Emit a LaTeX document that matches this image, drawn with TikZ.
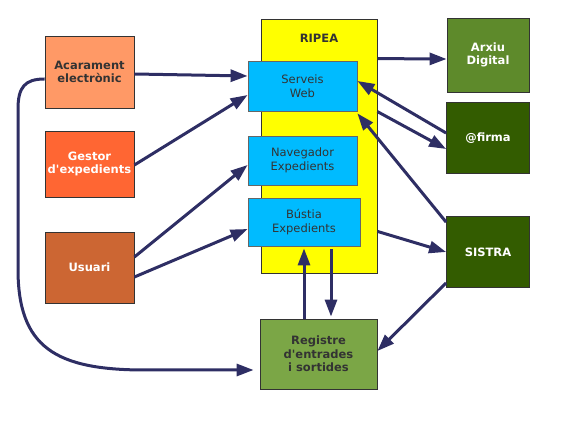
\documentclass[tikz,border=0pt]{standalone}
\usepackage{fontspec}
\setsansfont{DejaVu Sans}
\usetikzlibrary{arrows.meta}

\definecolor{acarcol}{HTML}{FF9966}
\definecolor{gestcol}{HTML}{FF6633}
\definecolor{usuacol}{HTML}{CC6633}
\definecolor{ripcol}{HTML}{FFFF00}
\definecolor{modcol}{HTML}{00BBFF}
\definecolor{arxcol}{HTML}{5E8A2B}
\definecolor{darkgreen}{HTML}{335C00}
\definecolor{regcol}{HTML}{7BA646}
\definecolor{linkcol}{HTML}{2E2E64}
\definecolor{txtcol}{HTML}{333333}

\begin{document}
\begin{tikzpicture}[x = 1pt, y = 1pt, align = center,
	ext/.style = {draw = black!80, line width = 0.8pt, inner sep = 0pt, font = \sffamily\bfseries\fontsize{11.5}{13.5}\selectfont},
	mod/.style = {draw = black!60, line width = 0.8pt, fill = modcol, inner sep = 0pt, text = txtcol, font = \sffamily\fontsize{11.5}{13.5}\selectfont},
	link/.style = {draw = linkcol, line width = 3pt, -{Triangle[length = 17pt, width = 12pt]}}]
	\useasboundingbox (0,0) rectangle (568,439);
	\node[ext, fill = acarcol, text = txtcol, minimum width = 89pt, minimum height = 72pt] (acar) at (89.5,367) {Acarament\\electrònic};
	\node[ext, fill = gestcol, text = white, minimum width = 89pt, minimum height = 66pt, node distance = 92pt, below of = acar] (gest) {Gestor\\d\textquotesingle expedients};
	\node[ext, fill = usuacol, text = white, minimum width = 89pt, minimum height = 71pt, node distance = 103.5pt, below of = gest] (usua) {Usuari};
	\node[ext, fill = ripcol, minimum width = 116pt, minimum height = 254pt, label = {[anchor = center, yshift = -20pt, text = txtcol, font = \sffamily\bfseries\fontsize{11.5}{13.5}\selectfont]north:RIPEA}] (ripea) at (319,293) {};
	\node[mod, minimum width = 109pt, minimum height = 50pt] (serv) at (302.5,353) {Serveis\\Web};
	\node[mod, minimum width = 109pt, minimum height = 49pt, node distance = 74.5pt, below of = serv] (nave) {Navegador\\Expedients};
	\node[mod, minimum width = 112pt, minimum height = 48pt, node distance = 61.5pt, below of = nave, xshift = 1.5pt] (bust) {Bústia\\Expedients};
	\node[ext, fill = arxcol, text = white, minimum width = 82pt, minimum height = 74pt] (arxiu) at (488,384) {Arxiu\\Digital};
	\node[ext, fill = darkgreen, text = white, minimum width = 83pt, minimum height = 71pt, node distance = 83pt, below of = arxiu] (firma) {@firma};
	\node[ext, fill = darkgreen, text = white, minimum width = 83pt, minimum height = 71pt, node distance = 114pt, below of = firma] (sistra) {SISTRA};
	\node[ext, fill = regcol, text = txtcol, minimum width = 117pt, minimum height = 70pt] (regis) at (318.5,85) {Registre\\d\textquotesingle entrades\\i sortides};
	\coordinate (bustr) at ([xshift = 27pt]bust.south);
	\draw[link] ([yshift = -2pt]acar.east) -- ([yshift = 10pt]serv.west);
	\draw[link] ([yshift = -1pt]gest.east) -- ([yshift = -9pt]serv.west);
	\draw[link] ([yshift = 10.5pt]usua.east) -- ([yshift = -4.5pt]nave.west);
	\draw[link] ([yshift = -9.5pt]usua.east) -- ([yshift = -7pt]bust.west);
	\draw[link] ([yshift = -40pt]ripea.north east) -- ([yshift = -4pt]arxiu.west);
	\draw[link] ([yshift = 5pt]firma.west) -- ([yshift = 5pt]serv.east);
	\draw[link] ([yshift = -93pt]ripea.north east) -- ([yshift = -11pt]firma.west);
	\draw[link] ([yshift = -6pt]sistra.north west) -- ([yshift = -2pt]serv.south east);
	\draw[link] ([yshift = 42pt]ripea.south east) -- (sistra.west);
	\draw[link] ([yshift = 5pt]sistra.south west) -- ([yshift = 3pt]regis.east);
	\draw[link, shorten > = 2pt] (bust.south |- regis.north) -- (bust.south);
	\draw[link, shorten > = 2pt, shorten < = 3pt] (bustr) -- (bustr |- regis.north);
	\draw[link] ([yshift = -7pt]acar.west) .. controls (25,360) and (18,352) .. (18,330) -- (18,170)
		.. controls (18,92) and (55,69) .. (145,69) -- ([yshift = -16pt, xshift = -6pt]regis.west);
\end{tikzpicture}
\end{document}
